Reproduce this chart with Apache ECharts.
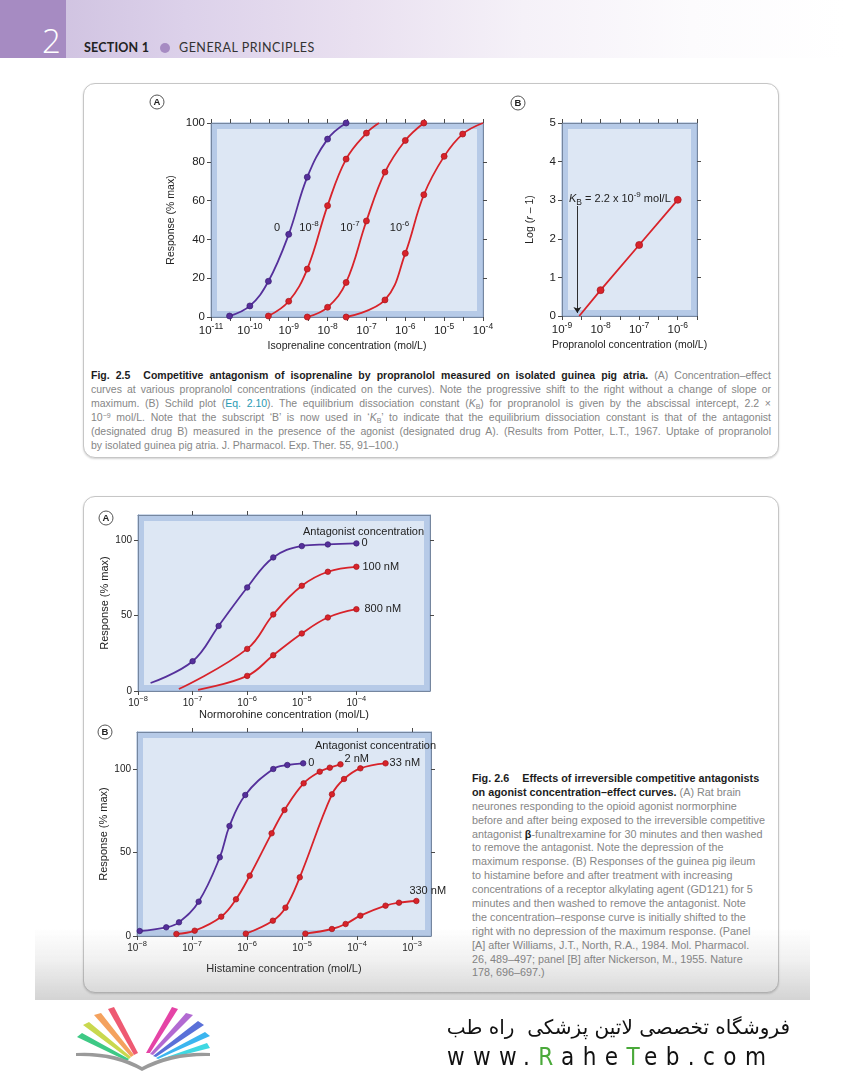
<!DOCTYPE html>
<html><head><meta charset="utf-8"><title>Fig 2.5 / Fig 2.6</title>
<script src="https://cdn.jsdelivr.net/npm/echarts@6.0.0/dist/echarts.min.js"></script>
<style>
html,body{margin:0;padding:0;background:#fff}
body{width:844px;height:1080px;position:relative;overflow:hidden;font-family:"Liberation Sans",Arial,Helvetica,sans-serif}
.abs{position:absolute}
#band{left:0;top:0;width:844px;height:58px;background:linear-gradient(90deg,#cbbddd 0%,#dcd1ea 22%,#e9e0f0 42%,#f5f1f8 62%,#fcfbfd 82%,#fff 100%)}
#blk{left:0;top:0;width:66px;height:58px;background:#a68bc2}
#num{left:42px;top:22px;font:300 33px "Open Sans",sans-serif;color:#fff;line-height:38px}
#sec{left:84px;top:40px;font:bold 12.5px "Lato",sans-serif;color:#222;letter-spacing:.2px;line-height:16px}
#dot{left:160px;top:43px;width:10px;height:10px;border-radius:50%;background:#a68bc2}
#gp{left:179px;top:40px;font:12.5px "Lato",sans-serif;color:#333;letter-spacing:.5px;line-height:16px}
.box{border:1px solid #c6c6c6;border-radius:12px;box-shadow:0 1px 2px rgba(0,0,0,.18);background:#fff}
#box1{left:83px;top:83px;width:694px;height:373px}
#box2{left:83px;top:496px;width:694px;height:495px}
.cap{color:#868686}
.cap b{color:#1c1c1c}
.cap sup{font-size:7px;vertical-align:3px;line-height:0}
.cap sub{font-size:7px;vertical-align:-2px;line-height:0}
.gap{display:inline-block;width:13px}
#cap1{left:91px;top:368px;width:680px;line-height:14px;font-size:10.5px}
#cap1 div{height:14px;white-space:nowrap}
#cap1 div span.ln{display:inline-block;white-space:nowrap}
#cap2{left:472px;top:772px;width:310px;line-height:13.9px;font-size:10.8px}
#cap2 div{height:13.9px;white-space:nowrap}
.teal{color:#2a9bb3}
#chart{left:0;top:0;width:844px;height:1080px}
#shade{left:35px;top:928px;width:775px;height:72px;background:linear-gradient(180deg,rgba(110,110,110,0) 0%,rgba(110,110,110,.10) 45%,rgba(110,110,110,.30) 100%);pointer-events:none}
#fa{left:440px;width:350px;text-align:right;top:1014px;font:20px "DejaVu Sans",sans-serif;direction:rtl;color:#111;line-height:26px}
#www{left:447px;top:1042px;font:24px "DejaVu Sans Condensed","DejaVu Sans",sans-serif;letter-spacing:8.4px;color:#111;line-height:30px}
#www .g{color:#4aa93a}
#logo{left:74px;top:1003px}
</style></head>
<body>
<div id="band" class="abs"></div>
<div id="blk" class="abs"></div>
<div id="num" class="abs">2</div>
<div id="sec" class="abs">SECTION 1</div>
<div id="dot" class="abs"></div>
<div id="gp" class="abs">GENERAL PRINCIPLES</div>

<div id="box1" class="abs box"></div>
<div id="box2" class="abs box"></div>

<div id="cap1" class="abs cap">
<div><span class="ln jl"><b>Fig. 2.5<span class="gap"></span>Competitive antagonism of isoprenaline by propranolol measured on isolated guinea pig atria.</b> (A) Concentration–effect</span></div>
<div><span class="ln jl">curves at various propranolol concentrations (indicated on the curves). Note the progressive shift to the right without a change of slope or</span></div>
<div><span class="ln jl">maximum. (B) Schild plot (<span class="teal">Eq. 2.10</span>). The equilibrium dissociation constant (<i>K</i><sub>B</sub>) for propranolol is given by the abscissal intercept, 2.2 ×</span></div>
<div><span class="ln jl">10<sup>−9</sup> mol/L. Note that the subscript ‘B’ is now used in ‘<i>K</i><sub>B</sub>’ to indicate that the equilibrium dissociation constant is that of the antagonist</span></div>
<div><span class="ln jl">(designated drug B) measured in the presence of the agonist (designated drug A). (Results from Potter, L.T., 1967. Uptake of propranolol</span></div>
<div><span class="ln">by isolated guinea pig atria. J. Pharmacol. Exp. Ther. 55, 91–100.)</span></div>
</div>

<div id="cap2" class="abs cap">
<div><b>Fig. 2.6<span class="gap"></span>Effects of irreversible competitive antagonists</b></div>
<div><b>on agonist concentration–effect curves.</b> (A) Rat brain</div>
<div>neurones responding to the opioid agonist normorphine</div>
<div>before and after being exposed to the irreversible competitive</div>
<div>antagonist <b>β</b>-funaltrexamine for 30 minutes and then washed</div>
<div>to remove the antagonist. Note the depression of the</div>
<div>maximum response. (B) Responses of the guinea pig ileum</div>
<div>to histamine before and after treatment with increasing</div>
<div>concentrations of a receptor alkylating agent (GD121) for 5</div>
<div>minutes and then washed to remove the antagonist. Note</div>
<div>the concentration–response curve is initially shifted to the</div>
<div>right with no depression of the maximum response. (Panel</div>
<div>[A] after Williams, J.T., North, R.A., 1984. Mol. Pharmacol.</div>
<div>26, 489–497; panel [B] after Nickerson, M., 1955. Nature</div>
<div>178, 696–697.)</div>
</div>

<div id="chart" class="abs"></div>
<div id="shade" class="abs"></div>

<svg id="logo" class="abs" width="140" height="72" viewBox="0 0 140 72">
  <path d="M34 6 L40 4 L64 50 L60 52 Z" fill="#ee5a72"/>
  <path d="M20 12 L27 10 L60 52 L57 54 Z" fill="#f4a25e"/>
  <path d="M9 22 L15 19 L57 54 L55 56 Z" fill="#c9d84e"/>
  <path d="M3 34 L8 30 L55 56 L53 58 Z" fill="#3ec985"/>
  <path d="M98 4 L104 6 L76 50 L72 50 Z" fill="#e544a6"/>
  <path d="M112 10 L119 12 L79 52 L76 51 Z" fill="#b26ad2"/>
  <path d="M124 18 L130 22 L82 54 L79 53 Z" fill="#5a70d8"/>
  <path d="M131 29 L136 33 L84 56 L82 55 Z" fill="#3bb5ef"/>
  <path d="M133 40 L136 45 L85 58 L84 57 Z" fill="#3fd8e2"/>
  <path d="M2 50 Q40 48 68 64 Q98 48 136 50 L136 53 Q98 52 68 68 Q40 52 2 53 Z" fill="#9a9a9a"/>
</svg>
<div id="fa" class="abs">فروشگاه تخصصی لاتین پزشکی&nbsp;&nbsp;راه طب</div>
<div id="www" class="abs">www.<span class="g">R</span>ahe<span class="g">T</span>eb.com</div>

<script>
// justify caption lines to the 680 px measure without re-wrapping (measured, then corrected)
document.querySelectorAll('#cap1 span.jl').forEach(function (s) {
  var n = (s.textContent.match(/ /g) || []).length;
  if (!n) return;
  var ws = 0;
  for (var k = 0; k < 4; k++) {
    var w = s.getBoundingClientRect().width;
    ws += (680 - w) / n;
    s.style.wordSpacing = ws + 'px';
  }
});
</script>

<script>
// ================= DATA =================
// Fig 2.5A – isoprenaline concentration (mol/L) vs response (% max) at each propranolol concentration
const isoConc_ctrl = [3e-11, 1e-10, 3e-10, 1e-9, 3e-9, 1e-8, 3e-8];
const isoResp_ctrl = [0.5, 5.7, 18.4, 42.6, 72.1, 91.7, 100];
const isoConc_p8 = [3e-10, 1e-9, 3e-9, 1e-8, 3e-8, 1e-7];
const isoResp_p8 = [0.5, 8.1, 24.7, 57.4, 81.4, 94.8];
const isoFitEnd_p8 = [2.1e-7, 100];          // fitted curve reaches 100 %
const isoConc_p7 = [3e-9, 1e-8, 3e-8, 1e-7, 3e-7, 1e-6, 3e-6];
const isoResp_p7 = [0, 5, 17.8, 49.5, 74.7, 91, 100];
const isoConc_p6 = [3e-8, 3e-7, 1e-6, 3e-6, 1e-5, 3e-5];
const isoResp_p6 = [0, 8.8, 32.8, 63, 82.8, 94.3];
const isoFitEnd_p6 = [1e-4, 100];
const isoCurveLabels = ['0', '-8', '-7', '-6'];   // propranolol 0, 10^-8, 10^-7, 10^-6 M

// Fig 2.5B – Schild plot
const propConc = [1e-8, 1e-7, 1e-6];
const logRminus1 = [0.67, 1.84, 3.01];
const schildIntercept = [2.8e-9, 0];           // regression line meets log(r-1)=0
const kbArrow = [2.5e-9, 2.85, 0.08];          // arrow: conc, from, to

// Fig 2.6A – normorphine (mol/L) vs response
const normConc_ctrl = [1e-7, 3e-7, 1e-6, 3e-6, 1e-5, 3e-5, 1e-4];
const normResp_ctrl = [19.7, 43.1, 68.6, 88.5, 96.0, 97.1, 97.8];
const normFitStart_ctrl = [1.7e-8, 5.3];
const normConc_100 = [1e-6, 3e-6, 1e-5, 3e-5, 1e-4];
const normResp_100 = [27.9, 50.7, 69.7, 79.0, 82.3];
const normFitStart_100 = [5.6e-8, 1.3];
const normConc_800 = [1e-6, 3e-6, 1e-5, 3e-5, 1e-4];
const normResp_800 = [10.0, 23.7, 38.1, 48.7, 54.2];
const normFitStart_800 = [1.26e-7, 0.8];
const normNames = ['0', '100 nM', '800 nM'];

// Fig 2.6B – histamine (mol/L) vs response
const histConc_ctrl = [1.12e-8, 3.4e-8, 5.8e-8, 1.32e-7, 3.2e-7, 4.8e-7, 9.3e-7, 3e-6, 5.4e-6, 1.05e-5];
const histResp_ctrl = [3.0, 5.2, 8.2, 20.6, 47.2, 66, 84.6, 100.2, 102.6, 103.6];
const histConc_2 = [5.2e-8, 1.12e-7, 3.4e-7, 6.3e-7, 1.12e-6, 2.8e-6, 4.8e-6, 1.07e-5, 2.1e-5, 3.2e-5, 5e-5];
const histResp_2 = [1.2, 3.2, 11.6, 22, 36.2, 61.6, 75.6, 91.6, 98.6, 101, 103];
const histConc_33 = [9.5e-7, 2.95e-6, 5e-6, 9.1e-6, 3.5e-5, 5.8e-5, 1.15e-4, 3.3e-4];
const histResp_33 = [1.4, 9.2, 17, 35.2, 85, 94.2, 100.6, 103.6];
const histConc_330 = [1.15e-5, 3.5e-5, 6.2e-5, 1.15e-4, 3.3e-4, 5.8e-4, 1.2e-3];
const histResp_330 = [1.4, 4.2, 7.2, 12.2, 18.2, 20, 21];
const histNames = ['0', '2 nM', '33 nM', '330 nM'];

// tick label exponents
const xLab25A = [-11, -10, -9, -8, -7, -6, -5, -4];
const xLab25B = [-9, -8, -7, -6];
const xLab26A = [-8, -7, -6, -5, -4];
const xLab26B = [-8, -7, -6, -5, -4, -3];
const yLab26 = [0, 50, 100];

// ================= CHART =================
const FONT = '"Liberation Sans", Arial, Helvetica, sans-serif';
const RED = '#d8232a', RED_D = '#a3161b', PUR = '#55309b', PUR_D = '#391d73';
const AXC = '#75869f', TKC = '#4a4a4a', TXT = '#222';

const G = [
  {left: 211, top: 123, width: 272, height: 194},
  {left: 562, top: 123, width: 135, height: 193},
  {left: 138, top: 515, width: 292, height: 176},
  {left: 137, top: 732, width: 294, height: 204}
];

function pts(conc, resp) { return conc.map((c, i) => [Math.log10(c), resp[i]]); }
function fitPt(p) { return {value: [Math.log10(p[0]), p[1]], symbol: 'none'}; }

function expLabel(minus, base, sup) {
  return {
    formatter: v => '{b|10}{s|' + String(v).replace('-', minus) + '}',
    rich: {
      b: {fontSize: base, fontFamily: FONT, color: TXT},
      s: {fontSize: sup, fontFamily: FONT, color: TXT, padding: [0, 0, sup, 0]}
    }
  };
}

function xBottom(gi, min, max, opts) {
  const o = {
    gridIndex: gi, type: 'value', min, max, position: 'bottom',
    axisLine: {show: true, onZero: false, lineStyle: {color: AXC, width: 1}},
    axisTick: {show: true, length: 4, lineStyle: {color: TKC, width: 1}},
    splitLine: {show: false},
    nameLocation: 'middle', nameMoveOverlap: false,
    nameTextStyle: {color: TXT, fontFamily: FONT}
  };
  return Object.assign(o, opts);
}
function xTop(gi, min, max, opts) {
  return Object.assign({
    gridIndex: gi, type: 'value', min, max, position: 'top',
    axisLine: {show: true, onZero: false, lineStyle: {color: AXC, width: 1}},
    axisTick: {show: true, length: 4, lineStyle: {color: TKC, width: 1}},
    axisLabel: {show: false}, splitLine: {show: false}
  }, opts);
}
function yLeft(gi, min, max, opts) {
  return Object.assign({
    gridIndex: gi, type: 'value', min, max, position: 'left',
    axisLine: {show: true, onZero: false, lineStyle: {color: AXC, width: 1}},
    axisTick: {show: true, length: 4, lineStyle: {color: TKC, width: 1}},
    splitLine: {show: false},
    nameLocation: 'middle', nameMoveOverlap: false,
    nameTextStyle: {color: TXT, fontFamily: FONT}
  }, opts);
}
function yRight(gi, min, max, ticks) {
  return {
    gridIndex: gi, type: 'value', min, max, position: 'right',
    axisLine: {show: true, onZero: false, lineStyle: {color: AXC, width: 1}},
    axisTick: {show: true, length: 4, customValues: ticks, lineStyle: {color: TKC, width: 1}},
    axisLabel: {show: false}, splitLine: {show: false}
  };
}

const lab25 = expLabel('-', 11.5, 8.5);
const lab26 = expLabel('−', 10, 7.5);

// axis order: grid g -> xAxis 2g (bottom), 2g+1 (top); yAxis 2g (left), 2g+1 (right)
const xAxis = [
  xBottom(0, -11, -4, {interval: 0.5, name: 'Isoprenaline concentration (mol/L)', nameGap: 24,
    nameTextStyle: {color: TXT, fontFamily: FONT, fontSize: 10.5},
    axisLabel: Object.assign({customValues: xLab25A, margin: 5}, lab25)}),
  xTop(0, -11, -4, {interval: 0.5}),
  xBottom(1, -9, -5.5, {interval: 0.5, name: 'Propranolol concentration (mol/L)', nameGap: 24,
    nameTextStyle: {color: TXT, fontFamily: FONT, fontSize: 10.5},
    axisLabel: Object.assign({customValues: xLab25B, margin: 5}, lab25)}),
  xTop(1, -9, -5.5, {interval: 0.5}),
  xBottom(2, -8, -2.652, {name: 'Normorohine concentration (mol/L)', nameGap: 18,
    nameTextStyle: {color: TXT, fontFamily: FONT, fontSize: 11},
    axisTick: {show: true, length: 4, customValues: xLab26A, lineStyle: {color: TKC, width: 1}},
    axisLabel: Object.assign({customValues: xLab26A, margin: 4}, lab26)}),
  xTop(2, -8, -2.652, {axisTick: {show: true, length: 4, customValues: [-7, -6, -5, -4], lineStyle: {color: TKC}}}),
  xBottom(3, -8, -2.655, {name: 'Histamine concentration (mol/L)', nameGap: 27,
    nameTextStyle: {color: TXT, fontFamily: FONT, fontSize: 11},
    axisTick: {show: true, length: 4, customValues: xLab26B, lineStyle: {color: TKC, width: 1}},
    axisLabel: Object.assign({customValues: xLab26B, margin: 4}, lab26)}),
  xTop(3, -8, -2.655, {axisTick: {show: true, length: 4, customValues: [-7, -6, -5, -4, -3], lineStyle: {color: TKC}}})
];

const yAxis = [
  yLeft(0, 0, 100, {interval: 20, name: 'Response (% max)', nameGap: 34,
    nameTextStyle: {color: TXT, fontFamily: FONT, fontSize: 10.5},
    axisLabel: {margin: 6, color: TXT, fontFamily: FONT, fontSize: 11.5}}),
  yRight(0, 0, 100, [20, 40, 60, 80]),
  yLeft(1, 0, 5, {interval: 1, name: '{n|Log (}{i|r}{n| – 1)}', nameGap: 26,
    nameTextStyle: {color: TXT, fontFamily: FONT, fontSize: 10.5,
      rich: {n: {fontSize: 10.5, fontFamily: FONT, color: TXT}, i: {fontSize: 10.5, fontFamily: FONT, fontStyle: 'italic', color: TXT}}},
    axisLabel: {margin: 6, color: TXT, fontFamily: FONT, fontSize: 11.5}}),
  yRight(1, 0, 5, [1, 2, 3, 4]),
  yLeft(2, 0, 116.6, {name: 'Response (% max)', nameGap: 28,
    nameTextStyle: {color: TXT, fontFamily: FONT, fontSize: 11},
    axisTick: {show: true, length: 4, customValues: yLab26, lineStyle: {color: TKC}},
    axisLabel: {customValues: yLab26, margin: 6, color: TXT, fontFamily: FONT, fontSize: 10}}),
  yRight(2, 0, 116.6, [50, 100]),
  yLeft(3, 0, 122.4, {name: 'Response (% max)', nameGap: 28,
    nameTextStyle: {color: TXT, fontFamily: FONT, fontSize: 11},
    axisTick: {show: true, length: 4, customValues: yLab26, lineStyle: {color: TKC}},
    axisLabel: {customValues: yLab26, margin: 6, color: TXT, fontFamily: FONT, fontSize: 10}}),
  yRight(3, 0, 122.4, [50, 100])
];

function curve(name, g, data, purple, extra) {
  const c = purple ? PUR : RED, d = purple ? PUR_D : RED_D;
  return Object.assign({
    type: 'line', name, xAxisIndex: 2 * g, yAxisIndex: 2 * g, data,
    smooth: 0.4, showSymbol: true, symbol: 'circle', symbolSize: 6,
    lineStyle: {color: c, width: 1.8}, itemStyle: {color: c, borderColor: d, borderWidth: 0.7},
    emphasis: {disabled: true}, animation: false, z: 3, clip: false
  }, extra || {});
}
function endLab(text, dist, offset) {
  return {endLabel: {show: true, formatter: text, distance: dist, offset: offset || [0, 0],
    color: TXT, fontFamily: FONT, fontSize: 11}};
}

const series = [
  // Fig 2.5A
  curve('0', 0, pts(isoConc_ctrl, isoResp_ctrl), true),
  curve('1e-8', 0, pts(isoConc_p8, isoResp_p8).concat([fitPt(isoFitEnd_p8)]), false),
  curve('1e-7', 0, pts(isoConc_p7, isoResp_p7), false),
  curve('1e-6', 0, pts(isoConc_p6, isoResp_p6).concat([fitPt(isoFitEnd_p6)]), false),
  // Fig 2.5B
  curve('schild', 1, [fitPt(schildIntercept)].concat(pts(propConc, logRminus1)), false, {
    smooth: false, symbolSize: 7,
    markLine: {
      silent: true, animation: false, symbol: ['none', 'arrow'], symbolSize: 6,
      label: {show: false}, emphasis: {disabled: true},
      lineStyle: {color: '#1a1a1a', width: 0.9, type: 'solid'},
      data: [[{coord: [Math.log10(kbArrow[0]), kbArrow[1]]}, {coord: [Math.log10(kbArrow[0]), kbArrow[2]]}]]
    }
  }),
  // Fig 2.6A
  curve(normNames[0], 2, [fitPt(normFitStart_ctrl)].concat(pts(normConc_ctrl, normResp_ctrl)), true,
    Object.assign({symbolSize: 5.5}, endLab(normNames[0], 5))),
  curve(normNames[1], 2, [fitPt(normFitStart_100)].concat(pts(normConc_100, normResp_100)), false,
    Object.assign({symbolSize: 5.5}, endLab(normNames[1], 6))),
  curve(normNames[2], 2, [fitPt(normFitStart_800)].concat(pts(normConc_800, normResp_800)), false,
    Object.assign({symbolSize: 5.5}, endLab(normNames[2], 8))),
  // Fig 2.6B
  curve(histNames[0], 3, pts(histConc_ctrl, histResp_ctrl), true,
    Object.assign({symbolSize: 5.5}, endLab(histNames[0], 5))),
  curve(histNames[1], 3, pts(histConc_2, histResp_2), false,
    Object.assign({symbolSize: 5.5}, endLab(histNames[1], 4, [0, -5]))),
  curve(histNames[2], 3, pts(histConc_33, histResp_33), false,
    Object.assign({symbolSize: 5.5}, endLab(histNames[2], 4))),
  curve(histNames[3], 3, pts(histConc_330, histResp_330), false,
    Object.assign({symbolSize: 5.5}, endLab(histNames[3], 4, [-11, -10])))
];

// plot-area frames (decoration)
const graphic = [];
G.forEach(g => {
  graphic.push({type: 'rect', z: -5, silent: true,
    shape: {x: g.left, y: g.top, width: g.width, height: g.height},
    style: {fill: '#b6cae7', stroke: '#9bb2d5', lineWidth: 1}});
  graphic.push({type: 'rect', z: -4, silent: true,
    shape: {x: g.left + 6, y: g.top + 6, width: g.width - 12, height: g.height - 12},
    style: {fill: '#dde7f4'}});
});
function circ(letter, x, y) {
  graphic.push({type: 'circle', silent: true, z: 5, shape: {cx: x, cy: y, r: 7},
    style: {fill: '#fff', stroke: '#555', lineWidth: 1}});
  graphic.push({type: 'text', silent: true, z: 6, x: x, y: y + 0.5,
    style: {text: letter, fill: '#222', font: 'bold 9.5px ' + FONT, align: 'center', verticalAlign: 'middle'}});
}
circ('A', 157, 102); circ('B', 518, 103); circ('A', 106, 518); circ('B', 105, 732);

const supRich = {
  b: {fontSize: 11, fontFamily: FONT, fill: TXT},
  s: {fontSize: 8, fontFamily: FONT, fill: TXT, padding: [0, 0, 8, 0]}
};
const curveLabX = [277, 309, 350, 399.5];
isoCurveLabels.forEach((t, i) => {
  graphic.push({type: 'text', silent: true, z: 6, x: curveLabX[i], y: 228,
    style: {text: t === '0' ? '{b|0}' : '{b|10}{s|' + t + '}', rich: supRich, align: 'center', verticalAlign: 'middle'}});
});
graphic.push({type: 'text', silent: true, z: 6, x: 569, y: 199,
  style: {text: '{k|K}{sb|B}{t| = 2.2 x 10}{sp|-9}{t| mol/L}', align: 'left', verticalAlign: 'middle',
    rich: {
      k: {fontSize: 11, fontFamily: FONT, fontStyle: 'italic', fill: TXT},
      sb: {fontSize: 8.5, fontFamily: FONT, fill: TXT, padding: [7, 0, 0, 0]},
      t: {fontSize: 11, fontFamily: FONT, fill: TXT},
      sp: {fontSize: 8, fontFamily: FONT, fill: TXT, padding: [0, 0, 8, 0]}
    }}});
graphic.push({type: 'text', silent: true, z: 6, x: 303, y: 532,
  style: {text: 'Antagonist concentration', fill: TXT, font: '11px ' + FONT, align: 'left', verticalAlign: 'middle'}});
graphic.push({type: 'text', silent: true, z: 6, x: 315, y: 746,
  style: {text: 'Antagonist concentration', fill: TXT, font: '11px ' + FONT, align: 'left', verticalAlign: 'middle'}});

const chart = echarts.init(document.getElementById('chart'), null, {renderer: 'canvas'});
chart.setOption({
  animation: false,
  backgroundColor: 'transparent',
  grid: G.map(g => Object.assign({show: false, containLabel: false, outerBoundsMode: 'none'}, g)),
  xAxis, yAxis, series, graphic
});
</script>
</body></html>
